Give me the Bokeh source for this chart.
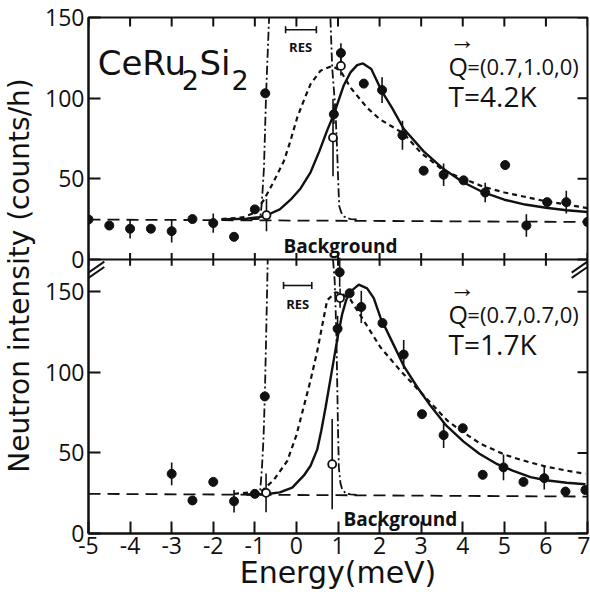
import numpy as np
from math import pi
from bokeh.plotting import figure
from bokeh.models import Range1d, FixedTicker, Label
from bokeh.embed import file_html
from bokeh.resources import INLINE

# ---------------- data ----------------
x_ticks = [-5, -4, -3, -2, -1, 0, 1, 2, 3, 4, 5, 6, 7]
y_ticks = [0, 50, 100, 150]

# background lines
bg_x = [-5, 7]
bg_top = [24.7, 23.2]
bg_bot = [24.6, 22.9]

# ---- upper panel : Q=(0.7,1.0,0), T=4.2K
top_x = [-5, -4.5, -4, -3.5, -3, -2.5, -2, -1.5, -1, -0.75, 0.9, 1.07, 1.62, 2.06,
         2.55, 3.06, 3.54, 4.02, 4.54, 5.02, 5.53, 6.03, 6.49, 7]
top_y = [24.7, 21, 19, 19, 17.5, 25, 22.5, 14, 31, 103, 90, 128, 109, 105,
         77, 55, 52.5, 49, 41.5, 58.5, 21, 35.5, 35.5, 23.2]
top_err = [0, 0, 6, 0, 7, 0, 6, 0, 0, 0, 6, 6, 0, 8,
           9, 0, 7, 0, 6, 0, 7, 0, 7, 0]
top_open_x = [-0.72, 0.88, 1.07]
top_open_y = [27.4, 75.5, 120]
top_open_err = [10, 24, 6]

top_solid_x = [-1.8, -1.2, -0.9, -0.7, -0.4, -0.14, 0.1, 0.34, 0.55, 0.74, 0.9, 1.14,
               1.3, 1.46, 1.6, 1.8, 2.06, 2.3, 2.58, 3.06, 3.54, 4.0, 4.5, 5.0, 5.5,
               6.0, 6.5, 7.0]
top_solid_y = [24.8, 25.2, 26.2, 27.5, 31, 37, 44, 54, 67, 80, 90, 108,
               116, 120.5, 121.5, 118, 104, 94, 81, 67, 56, 48, 41.5, 37, 34,
               32, 30.5, 29.4]
top_dot_x = [-1.8, -1.3, -1.0, -0.78, -0.55, -0.3, -0.15, 0.02, 0.2, 0.34, 0.58, 0.86,
             1.06, 1.3, 1.7, 2.0, 2.58, 3.0, 3.54, 4.02, 4.5, 5.0, 5.46, 6.0, 6.5, 7.0]
top_dot_y = [25, 26, 29, 37, 48, 61, 73, 88, 100, 108.7, 117, 120,
             117, 106.6, 94, 87, 78, 66, 55, 50, 45, 41.5, 39, 36, 34, 31.8]
top_res_x = [-1.1, -0.92, -0.87, -0.84, -0.82, -0.78, -0.73, -0.66, -0.6, 0.1, 0.78,
             0.82, 0.86, 0.94, 0.98, 1.01, 1.03, 1.08, 1.15, 1.3, 1.45]
top_res_y = [24.9, 25, 26, 33, 40, 57, 102, 148, 180, 400, 180,
             148, 119, 92, 67, 45, 33, 29, 26.5, 25, 24.8]
top_resbar = [-0.26, 0.48, 142.4]

# ---- lower panel : Q=(0.7,0.7,0), T=1.7K
bot_x = [-3, -2.5, -2, -1.5, -1, -0.76, 0.99, 1.04, 1.28, 1.56, 2.07, 2.58, 3.02,
         3.54, 4.0, 4.48, 4.98, 5.46, 5.96, 6.47, 6.95]
bot_y = [37, 20.5, 32, 20, 24.6, 85, 127, 162, 149, 140.5, 130.5, 111, 74,
         61, 65.3, 36.4, 41, 32, 34.3, 26, 27]
bot_err = [7, 0, 0, 7, 0, 0, 8, 9, 0, 10, 0, 9, 0,
           8, 0, 0, 8, 0, 7, 0, 0]
bot_open_x = [-0.73, 0.86, 1.05]
bot_open_y = [25.2, 43, 146]
bot_open_err = [12, 28, 6]

bot_solid_x = [-1.2, -0.7, -0.4, -0.1, 0.18, 0.34, 0.5, 0.6, 0.7, 0.8, 0.9, 1.0, 1.1,
               1.2, 1.3, 1.5, 1.7, 1.86, 2.02, 2.3, 2.58, 2.9, 3.23, 3.6, 4.02, 4.4,
               4.83, 5.2, 5.63, 6.0, 6.5, 6.95]
bot_solid_y = [24.2, 24.5, 25.5, 28.5, 36, 42, 52, 64, 78, 93, 108, 123, 136,
               145, 150, 154.3, 152, 146, 134, 119, 104, 91, 79, 67, 57, 49.5,
               43, 39, 35, 33, 31.5, 30.5]
bot_dot_x = [-1.5, -1.1, -0.82, -0.55, -0.22, 0.0, 0.22, 0.34, 0.5, 0.74, 0.94, 1.1,
             1.3, 1.62, 2.02, 2.5, 2.9, 3.3, 3.63, 4.0, 4.43, 5.0, 5.23, 5.63, 6.0,
             6.5, 6.95]
bot_dot_y = [24.6, 25.5, 26.7, 33, 45, 61, 83, 95, 113, 144.7, 149.6, 148.5,
             145, 132, 115.5, 101, 90, 79, 70, 63, 55.6, 49, 47, 44, 41.5,
             39, 37]
bot_res_x = [-1.1, -0.9, -0.87, -0.83, -0.79, -0.76, -0.73, -0.7, -0.69, np.nan, 0.88,
             0.92, 0.96, 0.98, 1.0, 1.02, 1.06, 1.1, 1.18, 1.3, 1.45]
bot_res_y = [24.5, 24.6, 27, 40, 60, 85, 120, 157, 170, np.nan, 170,
             157, 125, 95, 65, 41, 31, 27.5, 25, 24.3, 24]
bot_resbar = [-0.31, 0.37, 153.8]

# ---------------- figure ----------------
BOT_MAX = 320          # lower panel range 0..320 (visible part 0..170)
TOP_MIN = -170         # upper panel range -170..150
SHIFT = BOT_MAX - 150  # value offset between the two panels

p = figure(frame_width=499, frame_height=516,
           x_range=Range1d(-5, 7), y_range=Range1d(0, BOT_MAX),
           min_border_left=88, min_border_right=3, min_border_top=17, min_border_bottom=63,
           output_backend="svg", toolbar_location=None)
p.extra_y_ranges = {"top": Range1d(TOP_MIN, 150)}
p.xgrid.visible = False
p.ygrid.visible = False
INK = "#111111"
p.outline_line_color = INK
p.outline_line_width = 2
p.background_fill_color = "white"
p.border_fill_color = "white"

TICK_FONT = "Open Sans"

# left axis: ticks of both panels
left_ticks = list(y_ticks) + [t + SHIFT for t in y_ticks]
ya = p.yaxis[0]
ya.ticker = FixedTicker(ticks=left_ticks)
ya.major_label_overrides = {t + SHIFT: str(t) for t in y_ticks}
ya.major_tick_in = 12
ya.major_tick_out = 0
ya.minor_tick_in = 0
ya.minor_tick_out = 0
ya.axis_line_width = 2
ya.major_tick_line_width = 2
ya.axis_line_color = INK
ya.major_tick_line_color = INK
ya.major_label_text_font = TICK_FONT
ya.major_label_text_font_size = "23px"
ya.major_label_text_color = INK
ya.major_label_standoff = 4
ya.axis_label = "Neutron intensity (counts/h)"
ya.axis_label_text_font = "DejaVu Sans"
ya.axis_label_text_font_size = "28px"
ya.axis_label_text_font_style = "normal"
ya.axis_label_text_color = INK
ya.axis_label_standoff = 6

xa = p.xaxis[0]
xa.ticker = FixedTicker(ticks=x_ticks)
xa.major_label_overrides = {t: str(t) for t in x_ticks}
xa.major_tick_in = 12
xa.major_tick_out = 0
xa.minor_tick_in = 0
xa.minor_tick_out = 0
xa.axis_line_width = 2
xa.major_tick_line_width = 2
xa.axis_line_color = INK
xa.major_tick_line_color = INK
xa.major_label_text_font = TICK_FONT
xa.major_label_text_font_size = "23px"
xa.major_label_text_color = INK
xa.major_label_standoff = 3
xa.axis_label = "Energy(meV)"
xa.axis_label_text_font = "DejaVu Sans"
xa.axis_label_text_font_size = "30px"
xa.axis_label_text_font_style = "normal"
xa.axis_label_text_color = INK
xa.axis_label_standoff = -2

# inward ticks on the top edge (upper panel) and on the right edge (both panels)
nx = len(x_ticks)
p.segment(x0=x_ticks, y0=[150] * nx, x1=x_ticks, y1=[150 - 5.6] * nx,
          line_color=INK, line_width=2, y_range_name="top")
p.segment(x0=[7] * len(y_ticks), y0=y_ticks, x1=[7 - 0.24] * len(y_ticks), y1=y_ticks,
          line_color=INK, line_width=2, y_range_name="top")
p.segment(x0=[7] * len(y_ticks), y0=y_ticks, x1=[7 - 0.24] * len(y_ticks), y1=y_ticks,
          line_color=INK, line_width=2)

# middle axis line (zero of the upper panel) with crossing ticks
p.segment(x0=[x_ticks[0]], y0=[0], x1=[x_ticks[-1]], y1=[0], line_color=INK,
          line_width=2, y_range_name="top")
p.segment(x0=x_ticks, y0=[-4] * nx, x1=x_ticks, y1=[4] * nx,
          line_color=INK, line_width=2, y_range_name="top")

# axis break marks ("//") on the left and right edges, just below the middle line
xl, xr = x_ticks[0], x_ticks[-1]
brk_x0 = [xl, xl, xr - 0.38, xr - 0.38]
brk_x1 = [xl + 0.38, xl + 0.38, xr, xr]
brk_y0 = [158.5, 161.8, 158.5, 161.8]
brk_y1 = [165.3, 168.6, 165.3, 168.6]
p.segment(x0=brk_x0, y0=brk_y0, x1=brk_x1, y1=brk_y1, line_color=INK, line_width=2)


def panel(rng, bg_y, fx, fy, fe, ox, oy, oe, sx, sy, dx, dy, rx, ry, resbar):
    kw = {} if rng is None else {"y_range_name": rng}
    # background
    p.line(bg_x, bg_y, line_color=INK, line_width=1.8, line_dash="12 7", **kw)
    # resolution (dash-dot)
    p.line(rx, ry, line_color=INK, line_width=1.8, line_dash="9 3 2 3", **kw)
    # fits
    p.line(dx, dy, line_color=INK, line_width=2.2, line_dash="5 4", **kw)
    p.line(sx, sy, line_color=INK, line_width=2.4, **kw)
    # error bars
    fx_a, fy_a, fe_a = np.array(fx), np.array(fy), np.array(fe)
    m = fe_a > 0
    p.segment(x0=fx_a[m], y0=fy_a[m] - fe_a[m], x1=fx_a[m], y1=fy_a[m] + fe_a[m],
              line_color=INK, line_width=1.6, **kw)
    ox_a, oy_a, oe_a = np.array(ox), np.array(oy), np.array(oe)
    p.segment(x0=ox_a, y0=oy_a - oe_a, x1=ox_a, y1=oy_a + oe_a,
              line_color=INK, line_width=1.6, **kw)
    # points
    p.scatter(fx, fy, size=9, marker="circle", fill_color=INK, line_color=INK, **kw)
    p.scatter(ox, oy, size=8, marker="circle", fill_color="white", line_color=INK,
              line_width=1.8, **kw)
    # resolution bar
    x0, x1, yb = resbar
    p.segment(x0=[x0], y0=[yb], x1=[x1], y1=[yb], line_color=INK, line_width=1.6, **kw)
    p.segment(x0=[x0, x1], y0=[yb - 2.2, yb - 2.2], x1=[x0, x1], y1=[yb + 2.2, yb + 2.2],
              line_color=INK, line_width=1.6, **kw)


panel("top", bg_top, top_x, top_y, top_err, top_open_x, top_open_y, top_open_err,
      top_solid_x, top_solid_y, top_dot_x, top_dot_y, top_res_x, top_res_y, top_resbar)
panel(None, bg_bot, bot_x, bot_y, bot_err, bot_open_x, bot_open_y, bot_open_err,
      bot_solid_x, bot_solid_y, bot_dot_x, bot_dot_y, bot_res_x, bot_res_y, bot_resbar)


def lab(text, x, y, size, font="Open Sans", rng=None, **extra):
    kw = dict(x=x, y=y, text=text, text_font=font, text_font_size=size,
              text_color=INK, text_baseline="alphabetic", text_align="left")
    kw.update(extra)
    if rng:
        kw["y_range_name"] = rng
    p.add_layout(Label(**kw))


# compound name
lab("CeRu", -4.78, 121.5, "34px", font="DejaVu Sans", rng="top")
lab("2", -2.76, 111.5, "27px", font="DejaVu Sans", rng="top")
lab("Si", -2.33, 121.5, "34px", font="DejaVu Sans", rng="top")
lab("2", -1.56, 111.5, "27px", font="DejaVu Sans", rng="top")

# Q and T labels
lab("Q", 3.66, 120.2, "25px", rng="top")
lab("\u2192", 3.68, 136.5, "26px", rng="top")
lab("=(0.7,1.0,0)", 4.11, 120.2, "22px", rng="top")
lab("T=4.2K", 3.66, 101.6, "28px", rng="top")

lab("Q", 3.66, 136.4, "25px")
lab("\u2192", 3.68, 152.7, "26px")
lab("=(0.7,0.7,0)", 4.11, 136.4, "22px")
lab("T=1.7K", 3.66, 117.8, "28px")

# RES labels
lab("RES", 0.10, 131.5, "13px", rng="top", text_align="center", text_font_style="bold")
lab("RES", 0.03, 142.5, "13px", text_align="center", text_font_style="bold")

# Background labels
lab("Background", -0.31, 8.6, "19px", rng="top", text_font_style="bold")
lab("Background", 1.13, 9.3, "19px", text_font_style="bold")

open("out.html", "w").write(file_html(p, INLINE))
